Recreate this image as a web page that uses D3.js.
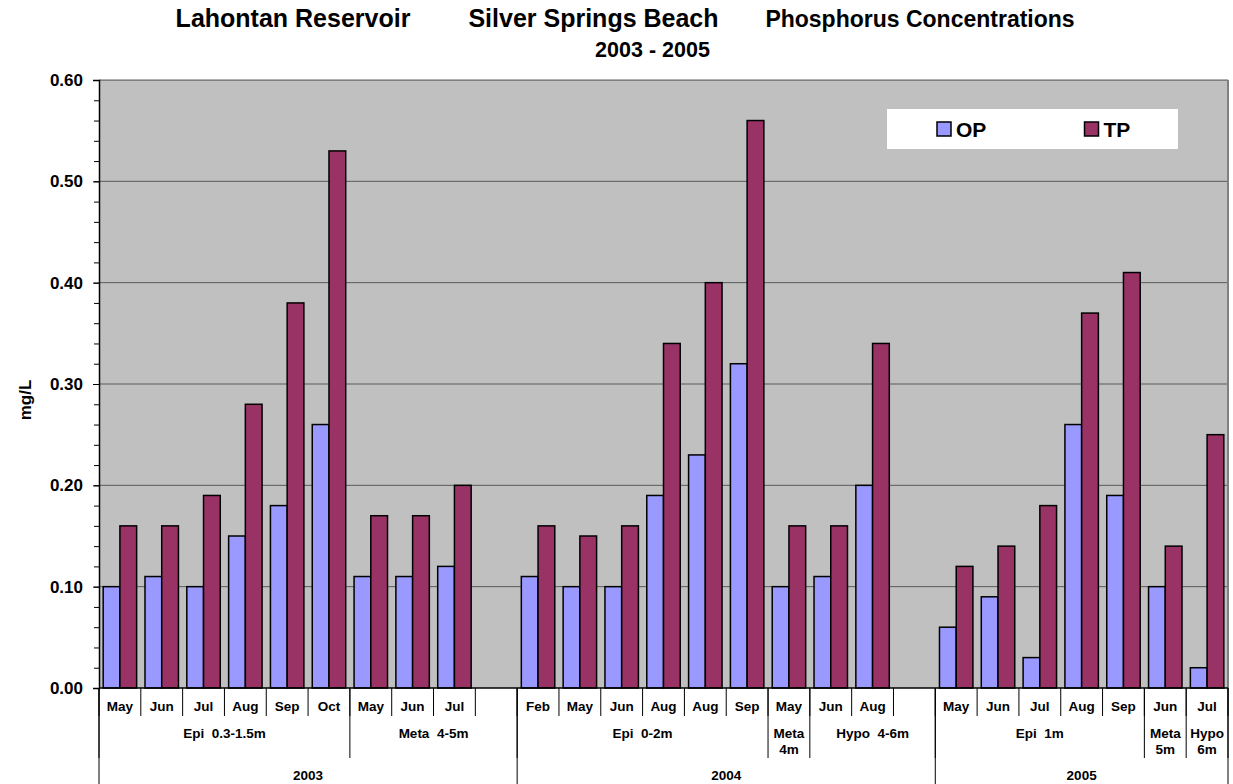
<!DOCTYPE html>
<html>
<head>
<meta charset="utf-8">
<script src="https://cdn.jsdelivr.net/npm/d3@7"></script>
<style>
  html, body { margin: 0; padding: 0; background: #ffffff; }
  svg { display: block; font-family: "Liberation Sans", Arial, Helvetica, sans-serif; font-weight: bold; }
  svg text { white-space: pre; }
</style>
</head>
<body>
<svg id="chart" width="1233" height="784"></svg>
<script>
// ---------------- data ----------------
const months = ["May","Jun","Jul","Aug","Sep","Oct","May","Jun","Jul","",
                "Feb","May","Jun","Aug","Aug","Sep","May","Jun","Aug","",
                "May","Jun","Jul","Aug","Sep","Jun","Jul"];
const opValues = [0.10,0.11,0.10,0.15,0.18,0.26,0.11,0.11,0.12,null,
                  0.11,0.10,0.10,0.19,0.23,0.32,0.10,0.11,0.20,null,
                  0.06,0.09,0.03,0.26,0.19,0.10,0.02];
const tpValues = [0.16,0.16,0.19,0.28,0.38,0.53,0.17,0.17,0.20,null,
                  0.16,0.15,0.16,0.34,0.40,0.56,0.16,0.16,0.34,null,
                  0.12,0.14,0.18,0.37,0.41,0.14,0.25];
const depthLabels = [["Epi  0.3-1.5m"],["Meta  4-5m"],["Epi  0-2m"],["Meta","4m"],["Hypo  4-6m"],["Epi  1m"],["Meta","5m"],["Hypo","6m"]];
const depthSpans  = [6,4,6,1,3,5,1,1];
const yearLabels = ["2003","2004","2005"];
const yearSpans  = [10,10,7];
const seriesNames = ["OP","TP"];
const seriesColors = ["#9999FF","#993366"];
const yTicks = [0,0.1,0.2,0.3,0.4,0.5,0.6];

// ---------------- layout ----------------
const svg = d3.select("#chart");
const L = 99, R = 1228, T = 80, B = 688;

const x = d3.scaleBand().domain(d3.range(months.length)).range([L, R])
  .paddingInner(0.2).paddingOuter(0.1);
const xs = d3.scaleBand().domain(seriesNames).range([0, x.bandwidth()]);
const y = d3.scaleLinear().domain([0, 0.6]).range([B, T]);
const step = x.step();
const boundary = i => (i < months.length ? x(i) - x.paddingInner()*step/2 : R);

// plot background
svg.append("rect").attr("x", L).attr("y", T).attr("width", R - L).attr("height", B - T)
  .attr("fill", "#C0C0C0");

// gridlines
svg.append("g").selectAll("line").data(yTicks.slice(1)).join("line")
  .attr("x1", L).attr("x2", R).attr("y1", d => y(d)).attr("y2", d => y(d))
  .attr("stroke", "#5a5a5a").attr("stroke-width", 1);

// plot border top/right
svg.append("line").attr("x1", L).attr("x2", R).attr("y1", T - 0.5).attr("y2", T - 0.5)
  .attr("stroke", "#b0b0b0").attr("stroke-width", 1);
svg.append("line").attr("x1", L).attr("x2", R).attr("y1", T + 0.5).attr("y2", T + 0.5)
  .attr("stroke", "#808080").attr("stroke-width", 1);
svg.append("line").attr("x1", R).attr("x2", R).attr("y1", T).attr("y2", B)
  .attr("stroke", "#808080").attr("stroke-width", 2);

// bars
const rows = months.map((m, i) => ({ i, vals: [opValues[i], tpValues[i]] }));
const groups = svg.append("g").selectAll("g").data(rows).join("g")
  .attr("transform", d => `translate(${x(d.i)},0)`);
groups.selectAll("rect")
  .data(d => d.vals.map((v, k) => ({ v, k })).filter(e => e.v !== null))
  .join("rect")
  .attr("x", e => xs(seriesNames[e.k]))
  .attr("width", xs.bandwidth())
  .attr("y", e => y(e.v))
  .attr("height", e => y(0) - y(e.v))
  .attr("fill", e => seriesColors[e.k])
  .attr("stroke", "#000").attr("stroke-width", 1.5);

// y axis: minor ticks
const yMinor = d3.range(0, 0.6001, 0.02);
svg.append("g").attr("transform", `translate(${L},0)`)
  .call(d3.axisLeft(y).tickValues(yMinor).tickSize(5).tickFormat(""))
  .call(g => g.select(".domain").remove())
  .call(g => g.selectAll("line").attr("stroke", "#000"));
// y axis: major
const yAxis = svg.append("g").attr("transform", `translate(${L},0)`)
  .call(d3.axisLeft(y).tickValues(yTicks).tickSize(6).tickPadding(10).tickFormat(d3.format(".2f")));
yAxis.select(".domain").attr("stroke", "#000").attr("stroke-width", 1.5);
yAxis.selectAll("text").attr("font-size", 17).attr("font-weight", "bold")
  .attr("font-family", "Liberation Sans, Arial, sans-serif").attr("fill", "#000");

// y axis title
svg.append("text").attr("transform", "translate(31,400) rotate(-90)")
  .attr("text-anchor", "middle").attr("font-size", 17).text("mg/L");

// x axis line
svg.append("line").attr("x1", L).attr("x2", R).attr("y1", B).attr("y2", B)
  .attr("stroke", "#000").attr("stroke-width", 1.5);

// row 1: month ticks & labels
const xg = svg.append("g");
xg.selectAll("line.m").data(d3.range(months.length + 1)).join("line").attr("class", "m")
  .attr("x1", i => boundary(i)).attr("x2", i => boundary(i))
  .attr("y1", B).attr("y2", 716).attr("stroke", "#000").attr("stroke-width", 1);
xg.selectAll("text.m").data(months).join("text").attr("class", "m")
  .attr("x", (d, i) => x(i) + x.bandwidth()/2).attr("y", 711)
  .attr("text-anchor", "middle").attr("font-size", 13.5).text(d => d);

// row 2: depth groups
const depthStarts = depthSpans.map((s, i) => d3.sum(depthSpans.slice(0, i)));
xg.selectAll("line.d").data(depthStarts.concat([months.length])).join("line").attr("class", "d")
  .attr("x1", i => boundary(i)).attr("x2", i => boundary(i))
  .attr("y1", B).attr("y2", 758).attr("stroke", "#000").attr("stroke-width", 1);
const dText = xg.selectAll("text.d").data(depthLabels).join("text").attr("class", "d")
  .attr("text-anchor", "middle").attr("font-size", 13.5)
  .attr("x", (d, i) => (boundary(depthStarts[i]) + boundary(depthStarts[i] + depthSpans[i])) / 2)
  .attr("y", 738);
dText.selectAll("tspan").data(d => d).join("tspan")
  .attr("x", function() { return d3.select(this.parentNode).attr("x"); })
  .attr("dy", (d, k) => k === 0 ? 0 : 16).text(d => d);

// row 3: years
const yearStarts = yearSpans.map((s, i) => d3.sum(yearSpans.slice(0, i)));
xg.selectAll("line.y").data(yearStarts.concat([months.length])).join("line").attr("class", "y")
  .attr("x1", i => boundary(i)).attr("x2", i => boundary(i))
  .attr("y1", B).attr("y2", 784).attr("stroke", "#000").attr("stroke-width", 1);
xg.selectAll("text.y").data(yearLabels).join("text").attr("class", "y")
  .attr("text-anchor", "middle").attr("font-size", 13.5)
  .attr("x", (d, i) => (boundary(yearStarts[i]) + boundary(yearStarts[i] + yearSpans[i])) / 2)
  .attr("y", 780).text(d => d);

// legend
const lg = svg.append("g");
lg.append("rect").attr("x", 887).attr("y", 109).attr("width", 291).attr("height", 40).attr("fill", "#fff");
const li = lg.selectAll("g").data(seriesNames).join("g")
  .attr("transform", (d, i) => `translate(${937 + i*147.5},122)`);
li.append("rect").attr("width", 14).attr("height", 14)
  .attr("fill", (d, i) => seriesColors[i]).attr("stroke", "#000").attr("stroke-width", 1.5);
li.append("text").attr("x", 19).attr("y", 15).attr("font-size", 21).text(d => d);

// titles
const titleParts = ["Lahontan Reservoir","Silver Springs Beach","Phosphorus Concentrations"];
const titleCenters = [293, 593.5, 920];
const titleSizes = [25, 25, 23];
svg.append("g").selectAll("text").data(titleParts).join("text")
  .attr("x", (d, i) => titleCenters[i]).attr("y", 27).attr("text-anchor", "middle")
  .attr("font-size", (d, i) => titleSizes[i]).text(d => d);
svg.append("text").attr("x", 652.5).attr("y", 57).attr("text-anchor", "middle")
  .attr("font-size", 21.5).text("2003 - 2005");
</script>
</body>
</html>
